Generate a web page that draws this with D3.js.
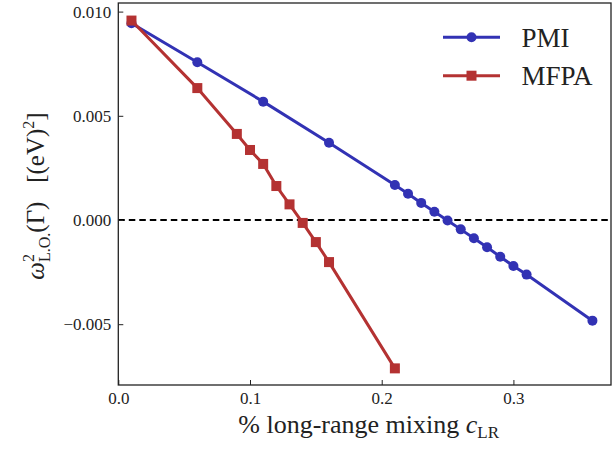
<!DOCTYPE html>
<html>
<head>
<meta charset="utf-8">
<script src="https://cdn.jsdelivr.net/npm/d3@7"></script>
<style>
  body { margin: 0; background: #fff; }
  svg { display: block; }
</style>
</head>
<body>
<svg id="chart" width="612" height="450"></svg>
<script>
// PMI series
const pmiX = [0.01, 0.06, 0.11, 0.16, 0.21, 0.22, 0.23, 0.24, 0.25, 0.26, 0.27, 0.28, 0.29, 0.30, 0.31, 0.36];
const pmiY = [0.00944, 0.00757, 0.00568, 0.00371, 0.00168, 0.00126, 0.00082, 0.00040, -0.00002, -0.00045, -0.00088, -0.00131, -0.00176, -0.00221, -0.00262, -0.00483];
// MFPA series
const mfpaX = [0.01, 0.06, 0.09, 0.10, 0.11, 0.12, 0.13, 0.14, 0.15, 0.16, 0.21];
const mfpaY = [0.00957, 0.00633, 0.00413, 0.00336, 0.00269, 0.00163, 0.00075, -0.00014, -0.00106, -0.00202, -0.00712];

const xTicks = [0.0, 0.1, 0.2, 0.3];
const yTicks = [0.010, 0.005, 0.000, -0.005];

const blue = "#3232b4";
const red = "#b43232";
const serif = "Liberation Serif";

const svg = d3.select("#chart");
const mLeft = 118.3, mRight = 611, mTop = 3, mBottom = 385;

const xScale = d3.scaleLinear().domain([0, 0.3741]).range([mLeft, mRight]);
const yScale = d3.scaleLinear().domain([-0.007918, 0.010413]).range([mBottom, mTop]);

// zero line
svg.append("line")
    .attr("x1", mLeft).attr("x2", mRight)
    .attr("y1", yScale(0)).attr("y2", yScale(0))
    .attr("stroke", "#000")
    .attr("stroke-width", 2)
    .attr("stroke-dasharray", "6.5,4");

const line = d3.line()
    .x(d => xScale(d[0]))
    .y(d => yScale(d[1]));

// PMI
const pmiData = pmiX.map((x, i) => [x, pmiY[i]]);
svg.append("path")
    .datum(pmiData)
    .attr("fill", "none")
    .attr("stroke", blue)
    .attr("stroke-width", 3)
    .attr("d", line);
svg.selectAll(".pmi")
    .data(pmiData)
    .enter().append("circle")
    .attr("cx", d => xScale(d[0]))
    .attr("cy", d => yScale(d[1]))
    .attr("r", 5)
    .attr("fill", blue);

// MFPA
const mfpaData = mfpaX.map((x, i) => [x, mfpaY[i]]);
svg.append("path")
    .datum(mfpaData)
    .attr("fill", "none")
    .attr("stroke", red)
    .attr("stroke-width", 3)
    .attr("d", line);
svg.selectAll(".mfpa")
    .data(mfpaData)
    .enter().append("rect")
    .attr("x", d => xScale(d[0]) - 5)
    .attr("y", d => yScale(d[1]) - 5)
    .attr("width", 10)
    .attr("height", 10)
    .attr("fill", red);

// axes, ticks inward
const xAxis = d3.axisBottom(xScale).tickValues(xTicks).tickFormat(d3.format(".1f"))
    .tickSizeInner(-5).tickSizeOuter(0).tickPadding(7);
const yAxis = d3.axisLeft(yScale).tickValues(yTicks)
    .tickFormat(d => d < 0 ? "\u2212" + d3.format(".3f")(-d) : d3.format(".3f")(d))
    .tickSizeInner(-5).tickSizeOuter(0).tickPadding(7);

const gx = svg.append("g").attr("transform", `translate(0,${mBottom})`).call(xAxis);
const gy = svg.append("g").attr("transform", `translate(${mLeft},0)`).call(yAxis);
[gx, gy].forEach(g => {
    g.attr("font-family", serif).attr("font-size", 17);
    g.select(".domain").remove();
    g.selectAll("text").attr("fill", "#222");
    g.selectAll("line").attr("stroke", "#222");
});

// frame
svg.append("rect")
    .attr("x", mLeft).attr("y", mTop)
    .attr("width", mRight - mLeft).attr("height", mBottom - mTop)
    .attr("fill", "none")
    .attr("stroke", "#222")
    .attr("stroke-width", 1.3);

// x label
const xl = svg.append("text")
    .attr("x", (mLeft + mRight) / 2 + 4)
    .attr("y", 433)
    .attr("text-anchor", "middle")
    .attr("fill", "#222")
    .attr("font-family", serif)
    .attr("font-size", 26);
xl.append("tspan").text("% long-range mixing ");
xl.append("tspan").style("font-style", "italic").text("c");
xl.append("tspan").attr("dy", 5).attr("font-size", 17).text("LR");

// y label
const yl = svg.append("text")
    .attr("transform", `translate(44,${(mTop + mBottom) / 2 + 2}) rotate(-90)`)
    .attr("text-anchor", "middle")
    .attr("fill", "#222")
    .attr("font-family", serif)
    .attr("font-size", 25);
yl.append("tspan").style("font-style", "italic").text("\u03c9");
yl.append("tspan").attr("dy", -10).attr("font-size", 16).text("2");
yl.append("tspan").attr("dx", -8).attr("dy", 16).attr("font-size", 16).text("L.O.");
yl.append("tspan").attr("dy", -6).text("(\u0393)\u2002 [(eV)");
yl.append("tspan").attr("dy", -10).attr("font-size", 16).text("2");
yl.append("tspan").attr("dy", 10).text("]");

// legend
const legend = [
    { name: "PMI", color: blue, shape: "circle", y: 37.3 },
    { name: "MFPA", color: red, shape: "square", y: 75.7 }
];
legend.forEach(l => {
    svg.append("line")
        .attr("x1", 443).attr("x2", 500)
        .attr("y1", l.y).attr("y2", l.y)
        .attr("stroke", l.color).attr("stroke-width", 3);
    if (l.shape === "circle") {
        svg.append("circle").attr("cx", 471.5).attr("cy", l.y).attr("r", 5).attr("fill", l.color);
    } else {
        svg.append("rect").attr("x", 466.5).attr("y", l.y - 5).attr("width", 10).attr("height", 10).attr("fill", l.color);
    }
    svg.append("text")
        .attr("x", 521.5).attr("y", l.y + 9.5)
        .attr("fill", "#222")
        .attr("font-family", serif)
        .attr("font-size", 27)
        .text(l.name);
});
</script>
</body>
</html>
